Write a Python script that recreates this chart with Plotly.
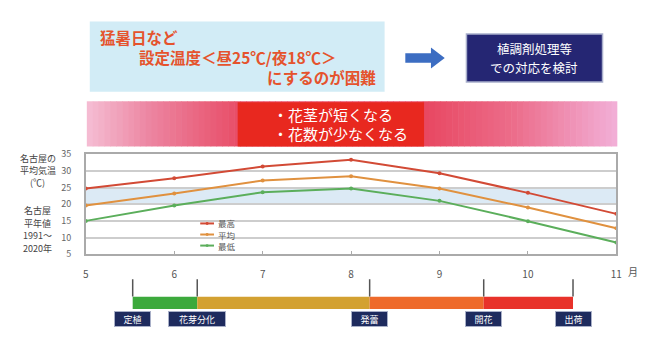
import plotly.graph_objects as go

W, H = 646, 342
FONT = "Noto Sans CJK JP"

# ---- data ----
months = [5, 6, 7, 8, 9, 10, 11]
temp_max = [24.7, 27.8, 31.3, 33.3, 29.3, 23.4, 17.1]
temp_avg = [19.6, 23.2, 27.1, 28.4, 24.7, 19.0, 12.8]
temp_min = [15.0, 19.6, 23.6, 24.7, 21.0, 14.9, 8.5]
series_names = ["最高", "平均", "最低"]
y_ticks = [5, 10, 15, 20, 25, 30, 35]
x_ticks = [5, 6, 7, 8, 9, 10, 11]
x_ticklabels = ["5", "6", "7", "8", "9", "10", "11"]

stage_names = ["定植", "花芽分化", "発蕾", "開花", "出荷"]
stage_pos = [5.53, 6.26, 8.21, 9.50, 10.51]
segment_colors = ["#3CA93C", "#D3A131", "#EE6A2B", "#E8322A"]

setting_band = [20, 25]


def X(px):
    return px / W


def Y(py):
    return 1 - py / H


fig = go.Figure()

colors = ["#D24A35", "#E0913F", "#5BAE5B"]
for name, vals, c in zip(series_names, [temp_max, temp_avg, temp_min], colors):
    fig.add_trace(go.Scatter(
        x=months, y=vals, name=name, mode="lines+markers",
        line=dict(color=c, width=2), marker=dict(size=4, color=c), showlegend=False,
    ))

# timeline bars
starts = stage_pos[:-1]
lengths = [b - a for a, b in zip(stage_pos[:-1], stage_pos[1:])]
fig.add_trace(go.Bar(
    x=lengths, base=starts, y=[0.5] * len(lengths), orientation="h",
    width=1, marker=dict(color=segment_colors, line=dict(width=0)),
    xaxis="x", yaxis="y2", showlegend=False, hoverinfo="skip",
))

shapes = []
annotations = []


def note(text, px, py, size, color, xanchor="center", **kw):
    d = dict(text=text, x=X(px), y=Y(py), xref="paper", yref="paper",
             xanchor=xanchor, yanchor="middle", showarrow=False,
             font=dict(family=FONT, size=size, color=color))
    d.update(kw)
    annotations.append(d)


# top light-blue box
shapes.append(dict(type="rect", xref="paper", yref="paper",
                   x0=X(88), x1=X(387), y0=Y(88), y1=Y(15),
                   fillcolor="#D2ECF6", line=dict(width=0), layer="below"))
red_txt = "#E5532D"
note("<b>猛暑日など</b>", 96, 31, 15.5, red_txt, xanchor="left")
note("<b>設定温度＜昼25℃/夜18℃＞</b>", 136, 52, 15.5, red_txt, xanchor="left")
note("<b>にするのが困難</b>", 380, 73, 15.5, red_txt, xanchor="right")

# arrow
ax0, ax1, ah = 408, 448, 434
arrow_path = (f"M {X(ax0)} {Y(48)} L {X(ah)} {Y(48)} L {X(ah)} {Y(42)} L {X(ax1)} {Y(53)} "
              f"L {X(ah)} {Y(64)} L {X(ah)} {Y(58)} L {X(ax0)} {Y(58)} Z")
shapes.append(dict(type="path", xref="paper", yref="paper", path=arrow_path,
                   fillcolor="#3C6DC2", line=dict(width=0)))

# navy box
shapes.append(dict(type="rect", xref="paper", yref="paper",
                   x0=X(470), x1=X(608), y0=Y(78), y1=Y(28),
                   fillcolor="#252673", line=dict(color="#A8AECB", width=1.5)))
note("植調剤処理等", 539, 43.5, 12.5, "white")
note("での対応を検討", 539, 62.5, 12.5, "white")

# pink gradient band
stops = [(85, (245, 190, 212)), (150, (236, 132, 160)), (238, (232, 78, 104)),
         (430, (232, 72, 98)), (520, (236, 110, 140)), (623, (242, 176, 216))]


def col_at(px):
    for (xa, ca), (xb, cb) in zip(stops[:-1], stops[1:]):
        if xa <= px <= xb:
            t = (px - xa) / (xb - xa)
            return tuple(int(round(ca[i] + (cb[i] - ca[i]) * t)) for i in range(3))
    return stops[-1][1]


n = 90
x_left, x_right = 85, 623
step = (x_right - x_left) / n
for i in range(n):
    a = x_left + i * step
    c = col_at(a + step / 2)
    shapes.append(dict(type="rect", xref="paper", yref="paper",
                       x0=X(a), x1=X(min(a + step + 0.6, x_right)), y0=Y(145), y1=Y(98),
                       fillcolor=f"rgb{c}", line=dict(width=0), layer="below"))
shapes.append(dict(type="rect", xref="paper", yref="paper",
                   x0=X(238), x1=X(427), y0=Y(145), y1=Y(99),
                   fillcolor="#E8281F", line=dict(width=0), layer="below"))
note("・花茎が短くなる", 272, 112, 15, "white", xanchor="left")
note("・花数が少なくなる", 272, 132, 15, "white", xanchor="left")

# setting temperature band in plot
shapes.append(dict(type="rect", xref="x domain", yref="y", x0=0, x1=1,
                   y0=setting_band[0], y1=setting_band[1],
                   fillcolor="#DCEAF5", line=dict(width=0), layer="below"))

# left texts
left_lines = [("名古屋の", 158), ("平均気温", 170), ("(℃)", 182),
              ("名古屋", 212), ("平年値", 225), ("1991～", 238), ("2020年", 251)]
for txt, yy in left_lines:
    note(txt, 35, yy, 9, "#444")

# 月
note("月", 639, 275, 10, "#555")

# manual legend
shapes.append(dict(type="rect", xref="paper", yref="paper",
                   x0=X(180), x1=X(258), y0=Y(253), y1=Y(218),
                   fillcolor="white", line=dict(width=0), layer="between"))
for i, (name, c) in enumerate(zip(series_names, colors)):
    yy = 225 + i * 11.5
    shapes.append(dict(type="line", xref="paper", yref="paper",
                       x0=X(200), x1=X(214), y0=Y(yy), y1=Y(yy),
                       line=dict(color=c, width=2)))
    shapes.append(dict(type="circle", xref="paper", yref="paper",
                       x0=X(205.5), x1=X(208.5), y0=Y(yy + 1.5), y1=Y(yy - 1.5),
                       fillcolor=c, line=dict(width=0)))
    note(name, 216, yy, 8.5, "#555", xanchor="left")

# stage lines and labels
label_w = {2: 33, 4: 54}
for name, pos in zip(stage_names, stage_pos):
    shapes.append(dict(type="line", xref="x", yref="paper", x0=pos, x1=pos,
                       y0=Y(301), y1=Y(283), line=dict(color="#555", width=1.5)))
    annotations.append(dict(text=name, x=pos, y=Y(324), xref="x", yref="paper",
                            xanchor="center", yanchor="middle",
                            showarrow=False, width=label_w.get(len(name), 33), height=12,
                            bgcolor="#1E2B5E", bordercolor="#A9B0C8", borderwidth=1, borderpad=1,
                            font=dict(family=FONT, size=9, color="white")))

fig.update_layout(
    width=W, height=H, margin=dict(l=0, r=0, t=0, b=0),
    paper_bgcolor="white", plot_bgcolor="white",
    font=dict(family=FONT, size=9, color="#666"),
    shapes=shapes, annotations=annotations,
    barmode="overlay", showlegend=False,
    xaxis=dict(domain=[X(84), X(622)], range=[5, 11], tickvals=x_ticks, ticktext=x_ticklabels,
               showgrid=False, showline=True, mirror=True, linecolor="#AAAAAA", linewidth=1.5,
               ticks="inside", ticklen=3, tickcolor="#AAAAAA", ticklabelstandoff=10,
               tickfont=dict(size=10, color="#555"), zeroline=False, fixedrange=True),
    yaxis=dict(domain=[Y(257), Y(153)], range=[5, 35], tickvals=y_ticks,
               showgrid=True, gridcolor="#CDCDCD", gridwidth=1.5,
               showline=True, mirror=True, linecolor="#AAAAAA", linewidth=1.5,
               ticks="", ticklabelstandoff=11, tickfont=dict(size=9, color="#666"),
               zeroline=False, fixedrange=True),
    yaxis2=dict(domain=[Y(314), Y(301)], range=[0, 1], anchor="x", visible=False, fixedrange=True),
)

fig.write_html("out.html")
